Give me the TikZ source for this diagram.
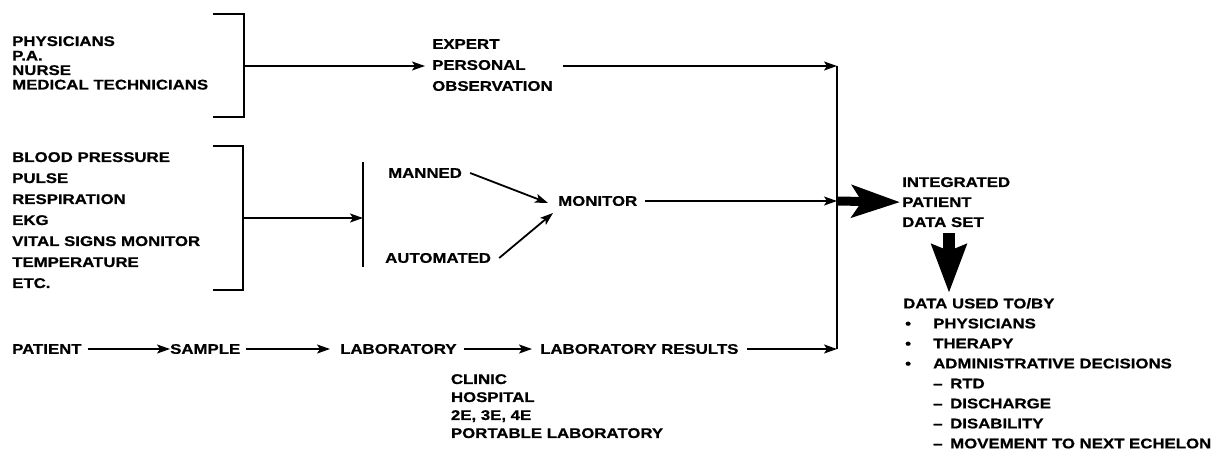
\documentclass[tikz,border=0pt]{standalone}
\usepackage{fontspec}
\setmainfont{Liberation Sans}[FakeStretch=1.2, BoldFeatures={FakeBold=0.7}]
\usetikzlibrary{arrows.meta}
\begin{document}
\begin{tikzpicture}[x=1pt,y=-1pt,
  lbl/.style={inner sep=0pt, anchor=north west, align=left, font=\fontsize{14}{21}\selectfont\bfseries},
  lbltight/.style={lbl, font=\fontsize{14}{14.5}\selectfont\bfseries},
  lbllist/.style={lbl, font=\fontsize{14}{20}\selectfont\bfseries},
  lblsites/.style={lbl, font=\fontsize{14}{18}\selectfont\bfseries},
  word/.style={inner sep=0pt, anchor=west, font=\fontsize{14}{16}\selectfont\bfseries},
  ln/.style={line width=1.8pt},
  arr/.style={line width=1.8pt, -{Stealth[length=13pt,width=9pt,inset=3pt]}},
  bigright/.style={line width=9pt, -{Stealth[length=48pt,width=32pt,inset=10pt]}},
  bigdown/.style={line width=12pt, -{Stealth[length=48pt,width=34pt,inset=6pt]}}]
\useasboundingbox (0,0) rectangle (1230,452);

% group 1
\node[lbltight] (g1) at (12,36) {PHYSICIANS\\P.A.\\NURSE\\MEDICAL TECHNICIANS};
\draw[ln] (213,14) -- (244,14) -- (244,117) -- (213,117);
\coordinate (b1m) at (244,66);
\node[lbl] (expert) at (432,39) {EXPERT\\PERSONAL\\OBSERVATION};
\draw[arr] (b1m) -- ([xshift=-7pt]expert.west |- b1m);
\coordinate (j1) at (837,66);
\draw[arr] ([xshift=10pt]expert.east |- j1) -- (j1);

% group 2
\node[lbl] (g2) at (12,152) {BLOOD PRESSURE\\PULSE\\RESPIRATION\\EKG\\VITAL SIGNS MONITOR\\TEMPERATURE\\ETC.};
\draw[ln] (213,146) -- (243,146) -- (243,290) -- (213,290);
\coordinate (b2m) at (243,218);
\coordinate (bart) at (363,162);
\coordinate (barb) at (363,267);
\draw[ln] (bart) -- (barb);
\draw[arr] (b2m) -- (bart |- b2m);
\node[word] (manned) at (388,173) {MANNED};
\node[word] (auto) at (385,258) {AUTOMATED};
\node[word] (monitor) at (558,201) {MONITOR};
\draw[arr] ([xshift=8pt]manned.east) -- ([xshift=-10pt,yshift=-2pt]monitor.west);
\draw[arr] ([xshift=8pt]auto.east) -- ([xshift=-5pt,yshift=-12pt]monitor.west);
\coordinate (j2) at (837,201);
\draw[arr] ([xshift=8pt]monitor.east) -- (j2);

% integrated
\node[lbl, font=\fontsize{14}{20}\selectfont\bfseries] (integ) at (902,177) {INTEGRATED\\PATIENT\\DATA SET};
\draw[bigright] (j2) -- ([xshift=-2pt]integ.west);
\node[lbllist] (data) at (903,298) {DATA USED TO/BY\\
\makebox[30pt][l]{\hspace{2pt}•}PHYSICIANS\\
\makebox[30pt][l]{\hspace{2pt}•}THERAPY\\
\makebox[30pt][l]{\hspace{2pt}•}ADMINISTRATIVE DECISIONS\\
\hspace{30pt}\makebox[17pt][l]{–}RTD\\
\hspace{30pt}\makebox[17pt][l]{–}DISCHARGE\\
\hspace{30pt}\makebox[17pt][l]{–}DISABILITY\\
\hspace{30pt}\makebox[17pt][l]{–}MOVEMENT TO NEXT ECHELON};
\coordinate (dtop) at (949,293);
\draw[bigdown] (dtop |- integ.south) ++(0,6) -- (dtop);

% bottom row
\node[word] (patient) at (12,349) {PATIENT};
\node[word] (sample) at (170,349) {SAMPLE};
\node[word] (lab) at (340,349) {LABORATORY};
\node[word] (labres) at (540,349) {LABORATORY RESULTS};
\draw[arr] ([xshift=6pt]patient.east) -- (sample.west);
\draw[arr] ([xshift=6pt]sample.east) -- ([xshift=-10pt]lab.west);
\draw[arr] ([xshift=7pt]lab.east) -- ([xshift=-8pt]labres.west);
\coordinate (j4) at (837,349);
\draw[arr] ([xshift=8pt]labres.east) -- (j4);
\draw[ln] (j1) -- (j4);
\node[lblsites] (sites) at ([xshift=-6pt]lab.east |- 0,374) {CLINIC\\HOSPITAL\\2E, 3E, 4E\\PORTABLE LABORATORY};
\end{tikzpicture}
\end{document}
